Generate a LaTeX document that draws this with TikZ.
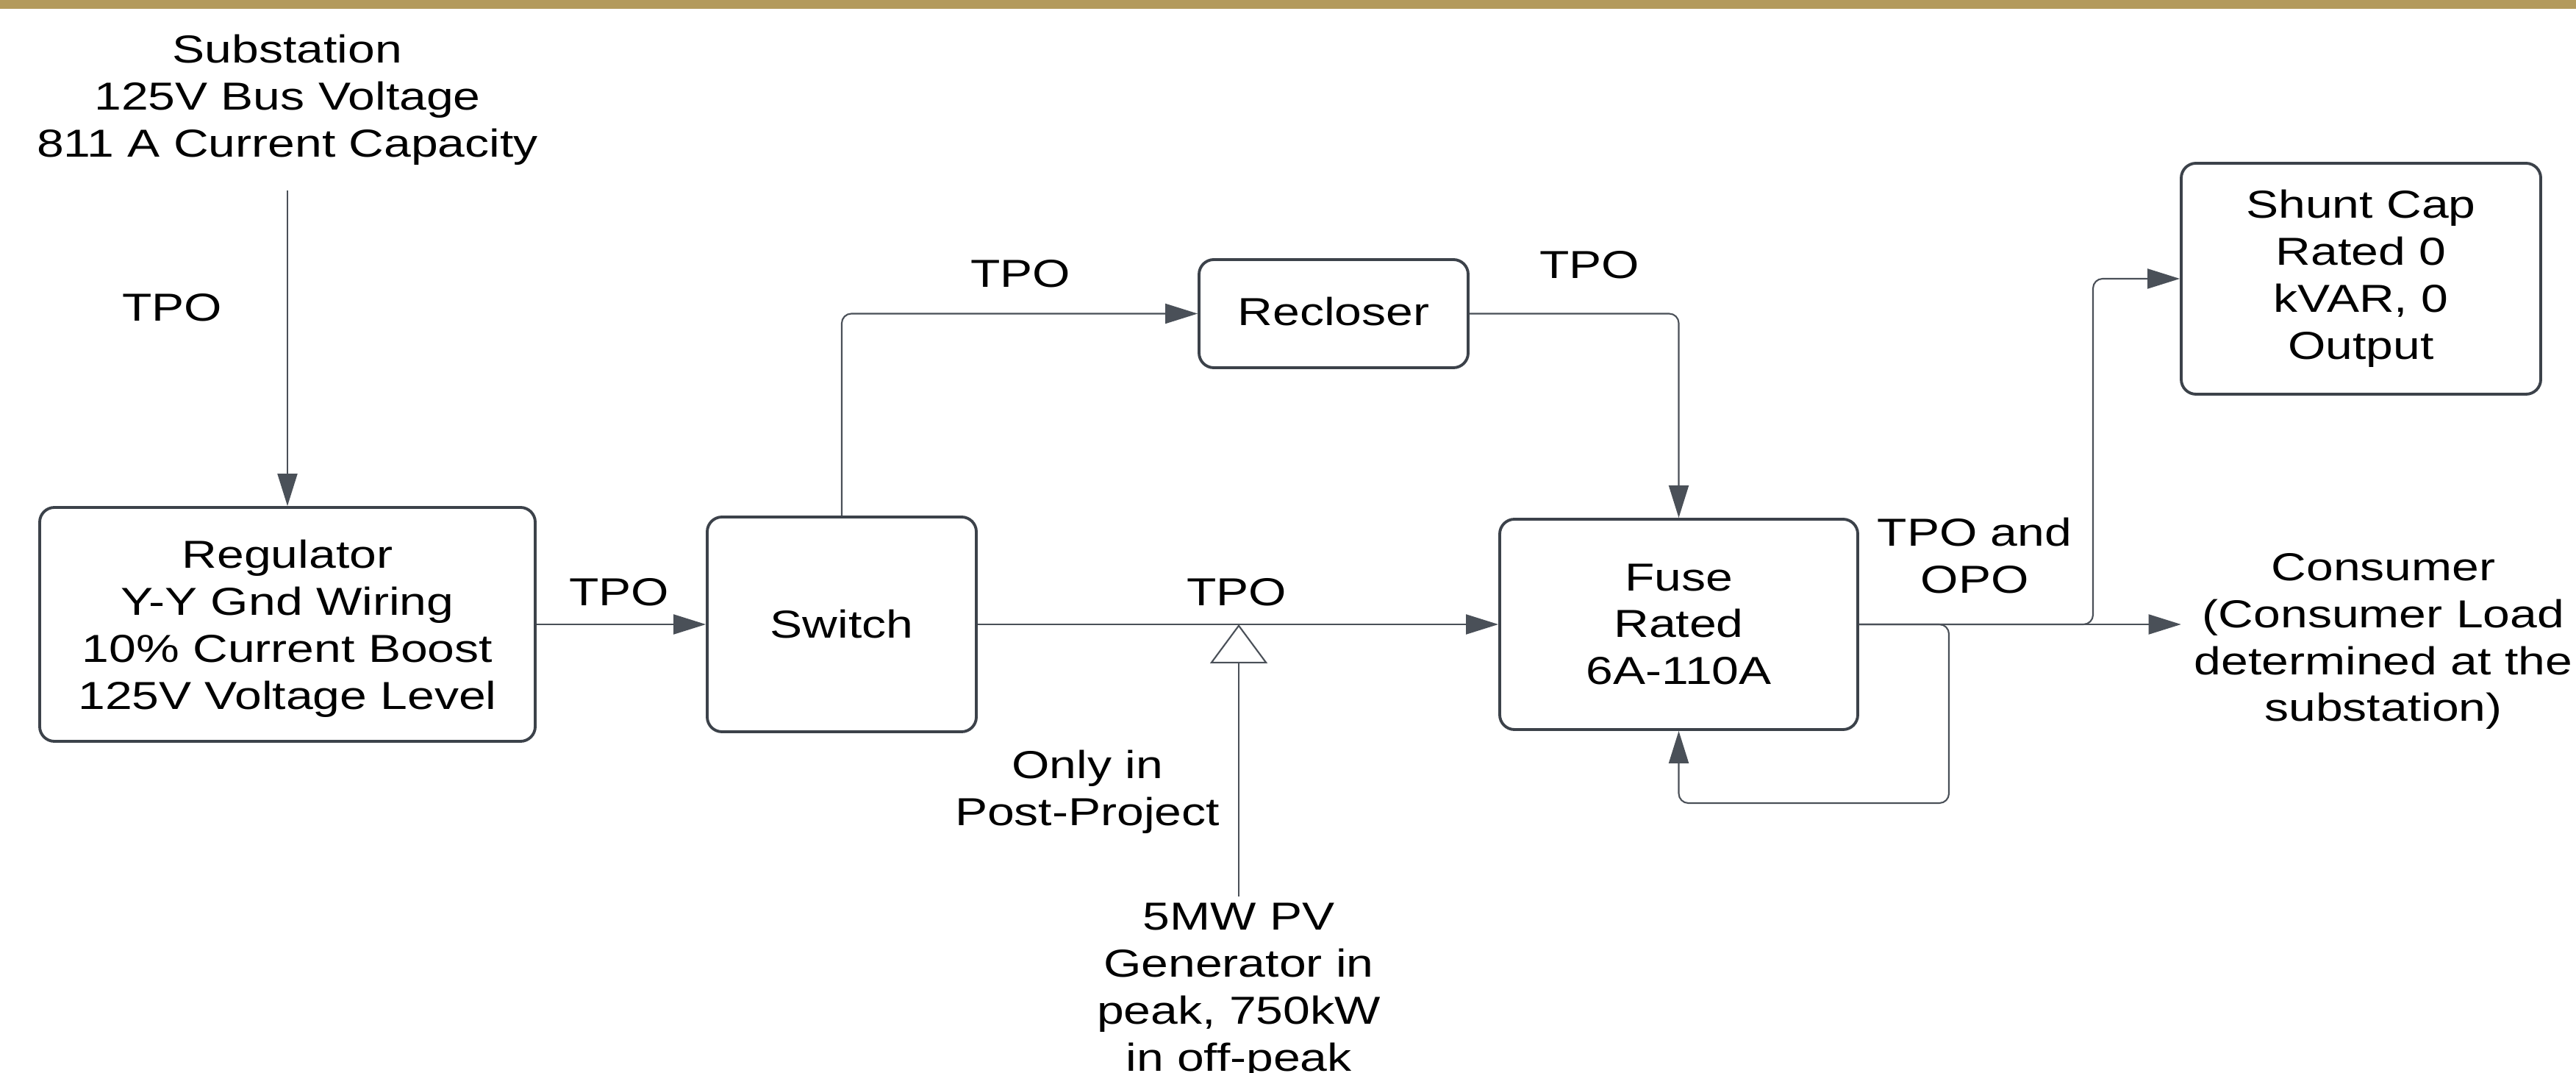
\documentclass[tikz,border=0pt]{standalone}
\usepackage{fontspec}
\setmainfont{Liberation Sans}[FakeStretch=1.245]
\usepackage{xcolor}
\usepackage{tikz}
\usetikzlibrary{arrows.meta}
\definecolor{feederInk}{HTML}{3C424A}
\definecolor{feederLine}{HTML}{4A5058}
\definecolor{feederGold}{HTML}{B39A5C}
\tikzset{
    feeder/text/.style={
        font=\fontsize{15.1pt}{18.2pt}\selectfont,
        text=black, align=center, inner sep=1pt
    },
    feeder/block/.style={
        feeder/text, rectangle, rounded corners=2mm,
        draw=feederInk, fill=white, line width=1.1pt, inner sep=0pt
    },
    feeder/label/.style={
        feeder/text
    },
    feeder/line/.style={
        draw=feederLine, line width=0.6pt, rounded corners=1.3mm
    },
    feeder/arrow/.style={
        feeder/line, -{Triangle[length=4.4mm,width=2.7mm]}
    },
    feeder/source arrow/.style={
        feeder/line, -{Triangle[length=5.3mm,width=7.8mm,fill=white]}
    }
}

\begin{document}
\begin{tikzpicture}
    \useasboundingbox (0,0) rectangle (35.04,-14.59);
    \clip (0,0) rectangle (35.04,-14.59);
    \fill[white] (0,0) rectangle (35.04,-14.59);
    \fill[feederGold] (0,0) rectangle (35.04,-0.12);

    \node[feeder/text] (substation) at (3.91,-1.36)
        {Substation\\125V Bus Voltage\\811 A Current Capacity};
    \coordinate (subfeed) at (3.91,-2.59);
    \node[feeder/block, minimum width=6.74cm, minimum height=3.18cm,
        text depth=0pt] (regulator) at (3.91,-8.49)
        {Regulator\\Y-Y Gnd Wiring\\10\% Current Boost\\125V Voltage Level};
    \node[feeder/block, minimum width=3.66cm, minimum height=2.92cm]
        (switch) at (11.45,-8.49) {Switch};
    \node[feeder/block, minimum width=3.66cm, minimum height=1.47cm]
        (recloser) at (18.14,-4.265) {\raisebox{0.07cm}{Recloser}};
    \node[feeder/block, minimum width=4.87cm, minimum height=2.86cm]
        (fuse) at (22.835,-8.49) {Fuse\\Rated\\6A-110A};
    \node[feeder/block, minimum width=4.89cm, minimum height=3.14cm]
        (shunt) at (32.115,-3.79) {Shunt Cap\\Rated 0\\kVAR, 0\\Output};
    \node[feeder/text, inner sep=0.175cm] (consumer) at (32.42,-8.72)
        {Consumer\\(Consumer Load\\determined at the\\substation)};
    \node[feeder/text, anchor=north, inner sep=0.08cm] (pv) at (16.85,-12.19)
        {5MW PV\\Generator in\\peak, 750kW\\in off-peak};
    \node[feeder/text] (postproject) at (14.79,-10.77)
        {Only in\\Post-Project};

    % flow labels
    \node[feeder/label] (tposub) at (2.34,-4.18) {TPO};
    \node[feeder/label] (tporeg) at (8.42,-8.05) {TPO};
    \node[feeder/label] (tpoup) at (13.88,-3.72) {TPO};
    \node[feeder/label] (tpodown) at (21.62,-3.60) {TPO};
    \node[feeder/label] (tpomain) at (16.82,-8.05) {TPO};
    \node[feeder/label] (tpoout) at (26.86,-7.56) {TPO and\\OPO};

    \coordinate (pvjoin) at (switch.east -| pv.north);
    \coordinate (capturn) at (28.47,-3.79);
    \coordinate (loopturn) at (26.51,-10.92);

    \draw[feeder/arrow] (subfeed) -- (regulator.north);
    \draw[feeder/arrow] (regulator.east) -- (switch.west);
    \draw[feeder/arrow] (switch.north) |- (recloser.west);
    \draw[feeder/arrow] (recloser.east) -| (fuse.north);
    \draw[feeder/arrow] (switch.east) -- (fuse.west);
    \draw[feeder/source arrow] (pv.north) -- (pvjoin);
    \draw[feeder/arrow] (fuse.east) -- (fuse.east -| consumer.west);
    \draw[feeder/arrow] (fuse.east) -| (capturn) -- (shunt.west);
    \draw[feeder/arrow] (fuse.east) -| (loopturn) -| (fuse.south);
\end{tikzpicture}
\end{document}
